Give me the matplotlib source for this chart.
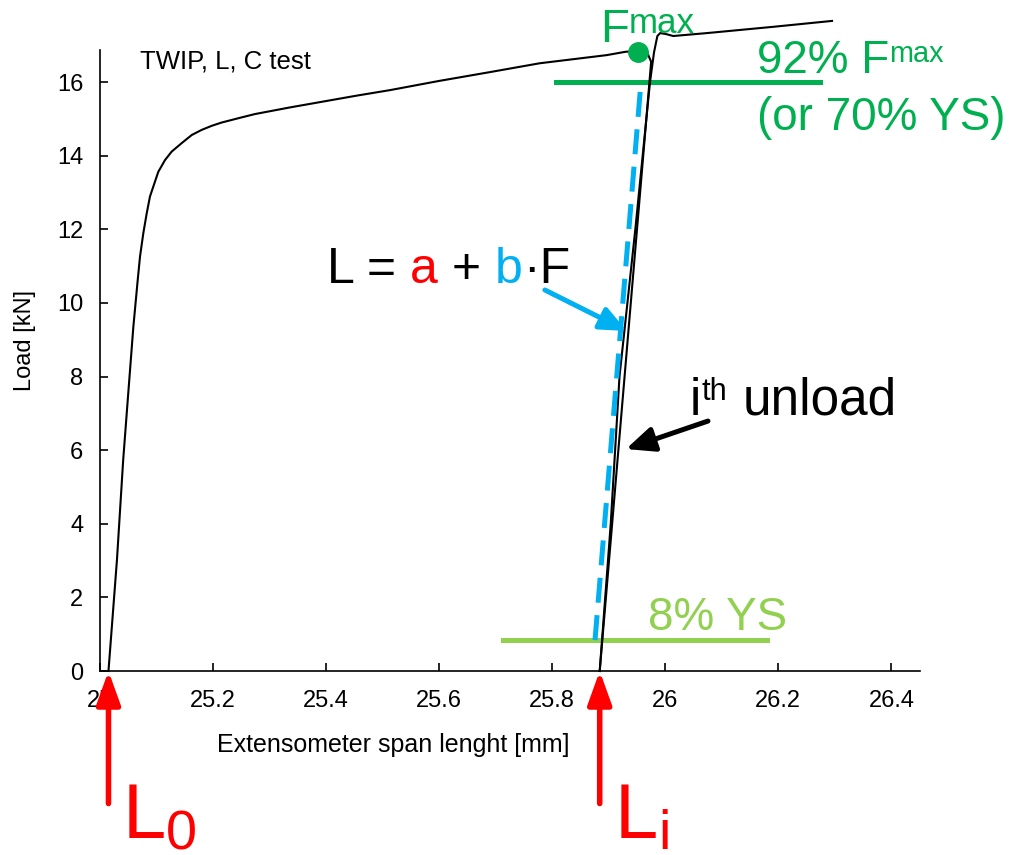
import matplotlib
matplotlib.use("Agg")
import matplotlib.pyplot as plt
import numpy as np

plt.rcParams['font.family'] = ['Liberation Sans', 'DejaVu Sans']

# load vs extensometer length, first loading up to the i-th unload
x_load = [25.015, 25.030, 25.041, 25.050, 25.059, 25.0667, 25.0708, 25.0766,
          25.0826, 25.0884, 25.0943, 25.1031, 25.1150, 25.1268, 25.1445, 25.1622,
          25.1799, 25.1976, 25.2153, 25.2330, 25.2507, 25.2742, 25.336,
          25.395, 25.454, 25.513, 25.600, 25.690, 25.778, 25.837, 25.896,
          25.929, 25.952, 25.968]
y_load = [0.0, 3.02, 5.73, 7.55, 9.35, 10.62, 11.26, 11.89,
          12.43, 12.89, 13.16, 13.56, 13.88, 14.11, 14.34, 14.56,
          14.70, 14.81, 14.90, 14.97, 15.04, 15.13, 15.31,
          15.47, 15.63, 15.78, 16.03, 16.27, 16.51, 16.62, 16.73,
          16.82, 16.85, 16.80]
# i-th unload
x_unload = [25.968, 25.975, 25.884]
y_unload = [16.80, 16.55, 0.0]
# reload and continued loading
x_reload = [25.884, 25.9035, 25.919, 25.947, 25.973, 25.980, 25.986, 25.991,
            26.002, 26.014, 26.074, 26.191, 26.295]
y_reload = [0.0, 4.0, 8.0, 12.0, 16.0, 16.8, 17.25, 17.33,
            17.30, 17.25, 17.33, 17.50, 17.66]

# fitted line L = a + b*F between the two load limits
x_fit = [25.8757, 25.957]
y_fit = [0.84, 16.0]

F_max = (25.952, 16.82)
L0 = 25.015
Li = 25.884
hi_level, hi_span = 16.0, (25.807, 26.274)
lo_level, lo_span = 0.84, (25.713, 26.18)

green = '#00B050'
light_green = '#92D050'
blue = '#00B0F0'
red = '#FF0000'

fig = plt.figure(figsize=(10.15, 8.55), dpi=100)
ax = fig.add_axes([100/1015, 1 - 671/855, 820/1015, 621/855])


def label(x, y, base, small, size, color, scale=0.63, shift=0.33):
    # base text with a raised (shift > 0) or lowered (shift < 0) smaller part
    t = ax.text(x, y, base, fontsize=size, color=color, clip_on=False)
    desc = 0.21
    ax.annotate(small, xy=(1, 0), xycoords=t,
                xytext=(0, size * (desc + shift)),
                textcoords='offset points', fontsize=size * scale,
                color=color, va='baseline', annotation_clip=False)
    return t


ax.plot(x_load, y_load, color='black', lw=1.5, clip_on=False, zorder=3)
ax.plot(x_unload, y_unload, color='black', lw=1.5, clip_on=False, zorder=3)
ax.plot(x_reload, y_reload, color='black', lw=1.5, clip_on=False, zorder=3)

ax.plot(x_fit, y_fit, color=blue, lw=3.6, dashes=(5, 2.5), zorder=4)
ax.plot(hi_span, [hi_level, hi_level], color=green, lw=3.6, clip_on=False, zorder=2)
ax.plot(lo_span, [lo_level, lo_level], color=light_green, lw=3.6, zorder=2)
ax.plot(*F_max, 'o', color=green, ms=14, clip_on=False, zorder=5)

ax.set_xlim(25, 26.4506)
ax.set_ylim(0, 16.87)
ax.set_xticks(np.arange(25, 26.41, 0.2))
ax.set_xticklabels(['25', '25.2', '25.4', '25.6', '25.8', '26', '26.2', '26.4'])
ax.set_yticks(np.arange(0, 17, 2))
for s in ['top', 'right']:
    ax.spines[s].set_visible(False)
for s in ['left', 'bottom']:
    ax.spines[s].set_linewidth(1.2)
ax.tick_params(direction='in', length=6, width=1.2, labelsize=17)
ax.tick_params(axis='x', pad=14)
ax.tick_params(axis='y', pad=12)

ax.set_xlabel('Extensometer span lenght [mm]', fontsize=18)
ax.xaxis.set_label_coords(0.358, -0.10)
ax.set_ylabel('Load [kN]', fontsize=17)
ax.yaxis.set_label_coords(-0.078, 0.533)

ax.text(25.071, 16.57, 'TWIP, L, C test', fontsize=18.5, va='center')

# annotations
big = 33
label(25.8845, 17.09, 'F', 'max', 34, green, scale=0.74, shift=0.18)
label(26.162, 16.245, '92% F', 'max', big, green, shift=0.24)
ax.text(26.162, 14.70, '(or 70% YS)', color=green, fontsize=big, clip_on=False)
ax.text(25.969, 1.114, '8% YS', color=light_green, fontsize=big)

t = ax.text(25.4016, 10.54, 'L = ', fontsize=36, va='baseline')
for piece, col in [('a', red), (' + ', 'black'), ('b', blue), ('\u00b7F', 'black')]:
    t = ax.annotate(piece, xycoords=t, xy=(1, 0), va='bottom', fontsize=36, color=col)

t = label(26.0437, 6.955, 'i', 'th', 37, 'black', scale=0.6, shift=0.30)
ax.annotate('unload', xy=(1, 0), xycoords=t, xytext=(30, 0),
            textcoords='offset points', va='bottom', fontsize=37)

ax.annotate('', xy=(25.932, 9.237), xytext=(25.787, 10.35),
            arrowprops=dict(arrowstyle='-|>,head_length=1.6,head_width=0.7',
                            color=blue, lw=3.6, mutation_scale=10, shrinkA=0, shrinkB=0))
ax.annotate('', xy=(25.9305, 6.03), xytext=(26.0755, 6.79),
            arrowprops=dict(arrowstyle='-|>,head_length=1.7,head_width=0.75',
                            color='black', lw=3.6, mutation_scale=10, shrinkA=0, shrinkB=0))

for xl in [L0, Li]:
    ax.annotate('', xy=(xl, 0), xytext=(xl, -3.6), annotation_clip=False,
                arrowprops=dict(arrowstyle='-|>,head_length=2.0,head_width=0.72',
                                color=red, lw=4, mutation_scale=10, shrinkA=0, shrinkB=0))

label(25.0407, -4.537, 'L', '0', 56, red, scale=0.72, shift=-0.15)
label(25.911, -4.537, 'L', 'i', 56, red, scale=0.72, shift=-0.15)

fig.savefig('out.png', dpi=100)
